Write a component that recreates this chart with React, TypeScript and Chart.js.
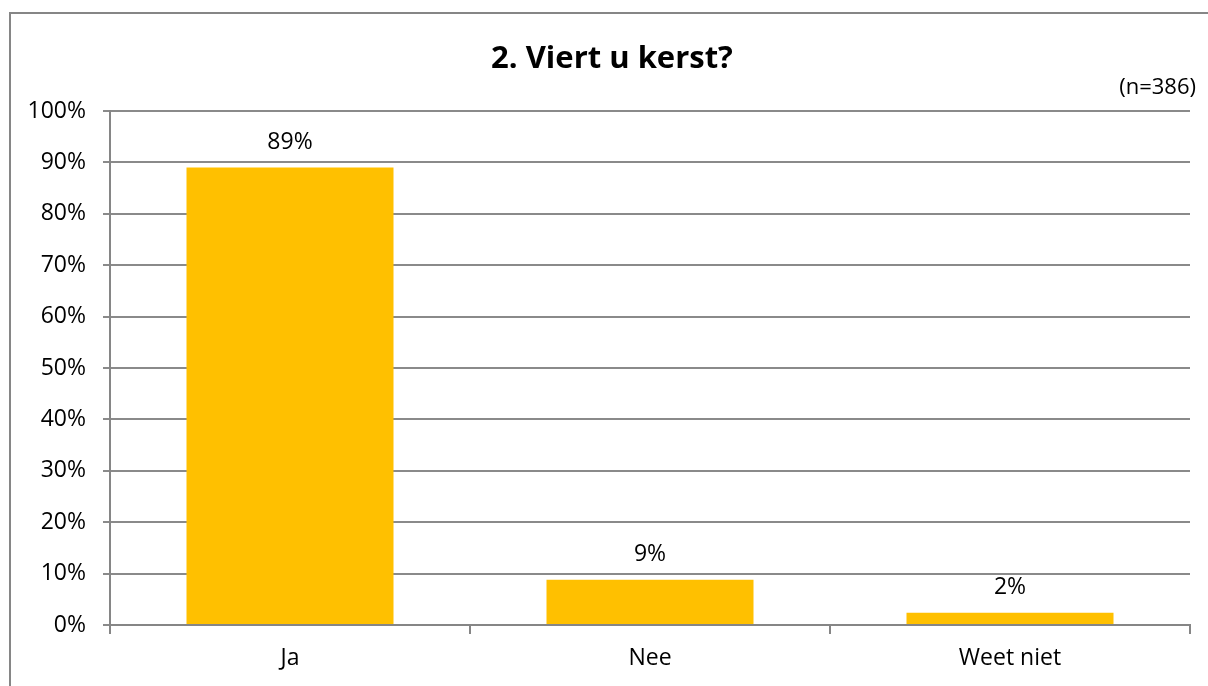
import React, { useEffect, useRef } from "react";
import { Chart, registerables } from "chart.js";

Chart.register(...registerables);

const categories = ["Ja", "Nee", "Weet niet"];
const values = [89.0, 8.8, 2.4];
const dataLabels = ["89%", "9%", "2%"];
const titleText = "2. Viert u kerst?";
const noteText = "(n=386)";

const FONT = "'Open Sans', 'Noto Sans', sans-serif";

const decorPlugin = {
  id: "decor",
  beforeDraw(chart: any) {
    const ctx = chart.ctx;
    ctx.save();
    ctx.strokeStyle = "#868686";
    ctx.lineWidth = 2;
    ctx.strokeRect(10, 13, 1260, 760);
    ctx.restore();
  },
  afterDraw(chart: any) {
    const ctx = chart.ctx;
    ctx.save();
    ctx.fillStyle = "#000";
    ctx.textAlign = "center";
    ctx.textBaseline = "alphabetic";
    ctx.font = `bold 31px ${FONT}`;
    ctx.fillText(titleText, 612, 68);
    ctx.font = `22px ${FONT}`;
    ctx.textAlign = "right";
    ctx.textBaseline = "middle";
    ctx.fillText(noteText, 1196, 88);
    const meta = chart.getDatasetMeta(0);
    ctx.font = `23px ${FONT}`;
    ctx.textAlign = "center";
    ctx.textBaseline = "middle";
    meta.data.forEach((bar: any, i: number) => {
      ctx.fillText(dataLabels[i], bar.x, bar.y - 25);
    });
    ctx.restore();
  },
};

export default function App() {
  const ref = useRef<HTMLCanvasElement | null>(null);
  useEffect(() => {
    document.body.style.margin = "0";
    const canvas = ref.current!;
    const chart = new Chart(canvas, {
      type: "bar",
      data: {
        labels: categories,
        datasets: [
          {
            data: values,
            backgroundColor: "#FFC000",
            borderWidth: 0,
            barPercentage: 0.575,
            categoryPercentage: 1,
          },
        ],
      },
      options: {
        animation: false,
        responsive: false,
        devicePixelRatio: 1,
        layout: { padding: { top: 111, left: 0, right: 18, bottom: 0 } },
        plugins: {
          legend: { display: false },
          title: { display: false },
          tooltip: { enabled: false },
        },
        scales: {
          x: {
            grid: {
              offset: true,
              drawOnChartArea: false,
              drawTicks: true,
              tickLength: 9,
              color: "#868686",
              lineWidth: 2,
            },
            border: { color: "#868686", width: 2 },
            ticks: {
              color: "#000",
              font: { family: FONT, size: 23 },
              padding: 11,
            },
            afterFit(scale: any) {
              scale.height = 61;
            },
          },
          y: {
            min: 0,
            max: 100,
            grid: {
              color: "#8a8a8a",
              lineWidth: 2,
              tickLength: 7,
            },
            border: { color: "#868686", width: 2 },
            ticks: {
              stepSize: 10,
              color: "#000",
              font: { family: FONT, size: 23 },
              padding: 17,
              callback: (v: any) => `${v}%`,
            },
            afterFit(scale: any) {
              scale.width = 110;
            },
          },
        },
      },
      plugins: [decorPlugin],
    });
    return () => chart.destroy();
  }, []);
  return (
    <div style={{ width: 1208, height: 686 }}>
      <canvas ref={ref} width={1208} height={686} style={{ display: "block" }} />
    </div>
  );
}
